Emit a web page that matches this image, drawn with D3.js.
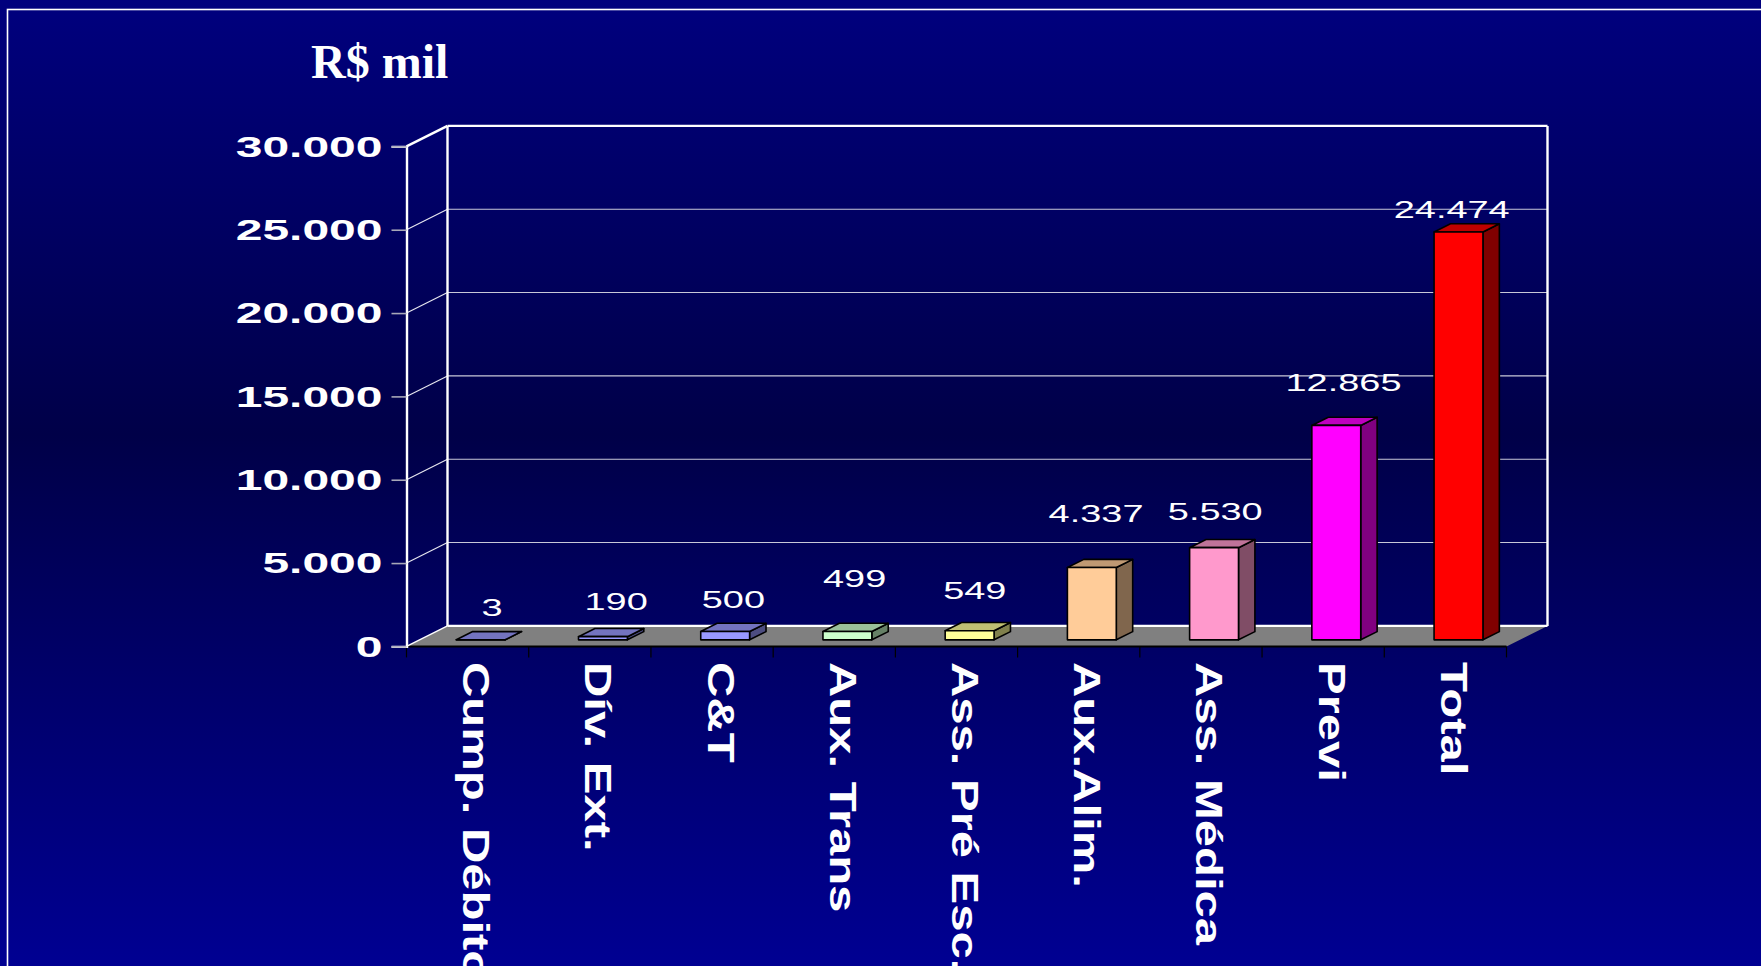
<!DOCTYPE html>
<html lang="pt-BR">
<head>
<meta charset="utf-8">
<title>R$ mil</title>
<script src="https://cdn.jsdelivr.net/npm/d3@7"></script>
<style>
  html, body { margin: 0; padding: 0; background: #000060; }
  svg { display: block; }
</style>
</head>
<body>
<svg id="chart" width="1761" height="966"></svg>
<script>
// ---- data ----
const categories = ["Cump. Débito", "Dív. Ext.", "C&T", "Aux. Trans", "Ass. Pré Esc.", "Aux.Alim.", "Ass. Médica", "Previ", "Total"];
const values = [3, 190, 500, 499, 549, 4337, 5530, 12865, 24474];
const barColors = ["#9999FF", "#9999FF", "#9999FF", "#CCFFCC", "#FFFF99", "#FFCC99", "#FF99CC", "#FF00FF", "#FF0000"];
const yTicks = [0, 5000, 10000, 15000, 20000, 25000, 30000];
const unitLabel = "R$ mil";

// hand-placed value label nudges (px): height above the bar top, sideways shift
const labelLift = [16, 18, 15, 36, 23, 37, 19, 26, 6];
const labelShift = [3, 5, 0, -1, -3, -4, -7, -1, -15];

// ---- layout ----
const W = 1761, H = 966;
const plot = { left: 406.5, right: 1506.5, top: 146.4, bottom: 646.4 };
const DX = 41, DY = -20.5;          // full floor depth offset
const Z0 = 0.32, Z1 = 0.72;         // bar depth span (fraction of floor depth)
const barFrac = 0.4;                // bar width as fraction of the band

const svg = d3.select("#chart");
const ptBR = d3.formatLocale({ decimal: ",", thousands: ".", grouping: [3], currency: ["R$", ""] });
const fmt = ptBR.format(",d");

// background gradient
const defs = svg.append("defs");
const grad = defs.append("linearGradient").attr("id", "bg").attr("x1", 0).attr("y1", 0).attr("x2", 0).attr("y2", 1);
grad.append("stop").attr("offset", "0%").attr("stop-color", "#00007E");
grad.append("stop").attr("offset", "45%").attr("stop-color", "#000048");
grad.append("stop").attr("offset", "100%").attr("stop-color", "#000092");
svg.append("rect").attr("width", W).attr("height", H).attr("fill", "url(#bg)");

// slide frame
svg.append("rect").attr("x", 7.5).attr("y", 9.5).attr("width", 3000).attr("height", 3000)
  .attr("fill", "none").attr("stroke", "#FFFFFF").attr("stroke-width", 1.6);

// title
svg.append("text").attr("x", 311).attr("y", 77.5)
  .attr("font-family", "'Liberation Serif', 'Times New Roman', serif")
  .attr("font-weight", "bold").attr("font-size", 48).attr("fill", "#FFFFFF")
  .text(unitLabel);

// scales
const x = d3.scaleBand().domain(categories).range([plot.left, plot.right]).paddingInner(0).paddingOuter(0);
const y = d3.scaleLinear().domain([0, 30000]).range([plot.bottom, plot.top]);

const g = svg.append("g");

// floor
const floorPts = [
  [plot.left, plot.bottom], [plot.right, plot.bottom],
  [plot.right + DX, plot.bottom + DY], [plot.left + DX, plot.bottom + DY]
];
g.append("polygon").attr("points", floorPts.map(p => p.join(",")).join(" ")).attr("fill", "#808080");
// floor front edge
g.append("line").attr("x1", plot.left).attr("x2", plot.right).attr("y1", plot.bottom).attr("y2", plot.bottom)
  .attr("stroke", "#000000").attr("stroke-width", 2);
// category separators below the floor
g.selectAll("line.ctick").data(categories.concat(["__end"])).join("line")
  .attr("class", "ctick")
  .attr("x1", (d, i) => plot.left + i * x.bandwidth())
  .attr("x2", (d, i) => plot.left + i * x.bandwidth())
  .attr("y1", plot.bottom).attr("y2", plot.bottom + 11)
  .attr("stroke", "#000000").attr("stroke-width", 1.2);

// back wall gridlines
g.selectAll("line.grid").data(yTicks.filter(t => t > 0 && t < 30000)).join("line")
  .attr("class", "grid")
  .attr("x1", plot.left + DX).attr("x2", plot.right + DX)
  .attr("y1", d => y(d) + DY).attr("y2", d => y(d) + DY)
  .attr("stroke", "#C8C8D8").attr("stroke-width", 1.1);
// side wall diagonals
g.selectAll("line.diag").data(yTicks.filter(t => t > 0 && t < 30000)).join("line")
  .attr("class", "diag")
  .attr("x1", plot.left).attr("x2", plot.left + DX)
  .attr("y1", d => y(d)).attr("y2", d => y(d) + DY)
  .attr("stroke", "#E8E8F0").attr("stroke-width", 1.1);

// wall outlines
const wall = [
  [[plot.left, y(30000)], [plot.left + DX, y(30000) + DY]],
  [[plot.left + DX, y(30000) + DY], [plot.right + DX, y(30000) + DY]],
  [[plot.left + DX, y(30000) + DY], [plot.left + DX, y(0) + DY]],
  [[plot.right + DX, y(30000) + DY], [plot.right + DX, y(0) + DY]],
  [[plot.left + DX, y(0) + DY], [plot.right + DX, y(0) + DY]],
  [[plot.left, y(0)], [plot.left + DX, y(0) + DY]]
];
g.selectAll("line.wall").data(wall).join("line")
  .attr("class", "wall")
  .attr("x1", d => d[0][0]).attr("y1", d => d[0][1])
  .attr("x2", d => d[1][0]).attr("y2", d => d[1][1])
  .attr("stroke", "#FFFFFF").attr("stroke-width", (d, i) => i === 5 ? 1.4 : 2.4);

// y axis
const yAxis = d3.axisLeft(y).tickValues(yTicks).tickFormat(fmt).tickSize(15).tickPadding(9);
const ya = svg.append("g").attr("transform", `translate(${plot.left},0)`).call(yAxis);
ya.select(".domain").attr("stroke", "#FFFFFF").attr("stroke-width", 2.4);
ya.selectAll(".tick line").attr("stroke", "#A8A8B8").attr("stroke-width", 1.6);
ya.selectAll(".tick text")
  .attr("x", 0)
  .attr("transform", "translate(-24,0) scale(1.6,1)")
  .attr("fill", "#FFFFFF")
  .attr("font-family", "'Liberation Sans', Arial, sans-serif")
  .attr("font-weight", "bold").attr("font-size", 30);

// bars
const shade = (c, k) => { const r = d3.rgb(c); return d3.rgb(r.r * k, r.g * k, r.b * k).formatHex(); };
const bw = x.bandwidth() * barFrac;
const bdx = (Z1 - Z0) * DX, bdy = (Z1 - Z0) * DY;
const bars = categories.map((c, i) => {
  const x0 = x(c) + (x.bandwidth() - bw) / 2 + Z0 * DX;
  const yb = y(0) + Z0 * DY;
  const yt = y(values[i]) + Z0 * DY;
  return { c, i, v: values[i], x0, x1: x0 + bw, yb, yt, col: barColors[i] };
});
const bg = svg.append("g").attr("stroke", "#000000").attr("stroke-width", 1.6).attr("stroke-linejoin", "round");
const bar = bg.selectAll("g.bar").data(bars).join("g").attr("class", "bar");
bar.append("polygon") // side
  .attr("points", d => [[d.x1, d.yt], [d.x1 + bdx, d.yt + bdy], [d.x1 + bdx, d.yb + bdy], [d.x1, d.yb]].map(p => p.join(",")).join(" "))
  .attr("fill", d => shade(d.col, 0.5));
bar.append("polygon") // top
  .attr("points", d => [[d.x0, d.yt], [d.x1, d.yt], [d.x1 + bdx, d.yt + bdy], [d.x0 + bdx, d.yt + bdy]].map(p => p.join(",")).join(" "))
  .attr("fill", d => shade(d.col, 0.75));
bar.append("rect") // front
  .attr("x", d => d.x0).attr("y", d => d.yt)
  .attr("width", bw).attr("height", d => Math.max(0, d.yb - d.yt))
  .attr("fill", d => d.col);

// value labels
svg.append("g").selectAll("text.val").data(bars).join("text")
  .attr("class", "val")
  .attr("transform", d => `translate(${(d.x0 + d.x1) / 2 + bdx / 2 + labelShift[d.i]},${d.yt + bdy - labelLift[d.i]}) scale(1.58,1)`)
  .attr("text-anchor", "middle")
  .attr("fill", "#FFFFFF")
  .attr("font-family", "'Liberation Sans', Arial, sans-serif")
  .attr("font-size", 24)
  .text(d => fmt(d.v));

// category labels, rotated to read downward
svg.append("g").selectAll("text.cat").data(categories).join("text")
  .attr("class", "cat")
  .attr("transform", d => `translate(${x(d) + x.bandwidth() / 2 - 4.5},662) rotate(90) scale(1.36,1)`)
  .attr("fill", "#FFFFFF")
  .attr("font-family", "'Liberation Sans', Arial, sans-serif")
  .attr("font-weight", "bold").attr("font-size", 36)
  .text(d => d);
</script>
</body>
</html>
